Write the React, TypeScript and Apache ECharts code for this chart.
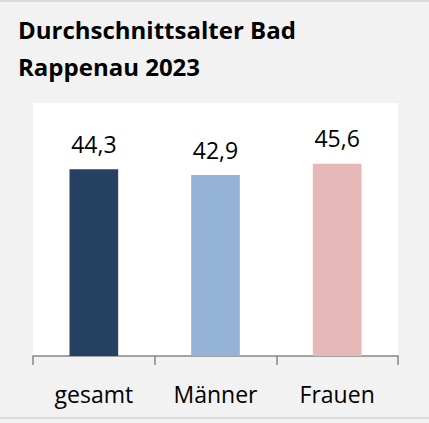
import React, { useEffect, useRef } from "react";
import * as echarts from "echarts";

const titleLines = ["Durchschnittsalter Bad", "Rappenau 2023"];
const categories = ["gesamt", "Männer", "Frauen"];
const values = [44.3, 42.9, 45.6];
const barColors = ["#264061", "#95b3d7", "#e6b9b8"];

export default function App() {
  const ref = useRef<HTMLDivElement>(null);
  useEffect(() => {
    if (!ref.current) return;
    const chart = echarts.init(ref.current, undefined, { renderer: "svg" });
    chart.setOption({
      animation: false,
      backgroundColor: "#f2f2f2",
      title: {
        text: titleLines.join("\n"),
        left: 13,
        top: 6,
        textStyle: {
          fontFamily: "Open Sans",
          fontWeight: "bold",
          fontSize: 24,
          lineHeight: 37,
          color: "#000",
        },
      },
      graphic: [
        { type: "rect", left: 0, top: 0, shape: { width: 429, height: 2 }, style: { fill: "#d9d9d9" } },
        { type: "rect", left: 0, top: 417, shape: { width: 429, height: 2 }, style: { fill: "#d9d9d9" } },
      ],
      grid: {
        left: 33,
        right: 31,
        top: 103,
        bottom: 67,
        show: true,
        backgroundColor: "#ffffff",
        borderWidth: 0,
      },
      xAxis: {
        type: "category",
        data: categories,
        axisLine: { show: true, lineStyle: { color: "#868686", width: 1.5 } },
        axisTick: { show: true, alignWithLabel: false, length: 9, lineStyle: { color: "#868686", width: 1.5 } },
        axisLabel: {
          fontFamily: "Open Sans",
          fontSize: 23,
          color: "#000",
          margin: 26,
        },
      },
      yAxis: {
        type: "value",
        min: 0,
        max: 60,
        show: false,
        splitLine: { show: false },
      },
      series: [
        {
          type: "bar",
          barWidth: "40%",
          data: values.map((v, i) => ({ value: v, itemStyle: { color: barColors[i] } })),
          label: {
            show: true,
            position: "top",
            distance: 14,
            fontFamily: "Open Sans",
            fontSize: 23,
            color: "#000",
            formatter: (p: any) => String(p.value).replace(".", ","),
          },
        },
      ],
    });
    return () => chart.dispose();
  }, []);
  return <div ref={ref} style={{ position: "fixed", left: 0, top: 0, width: 429, height: 423 }} />;
}
